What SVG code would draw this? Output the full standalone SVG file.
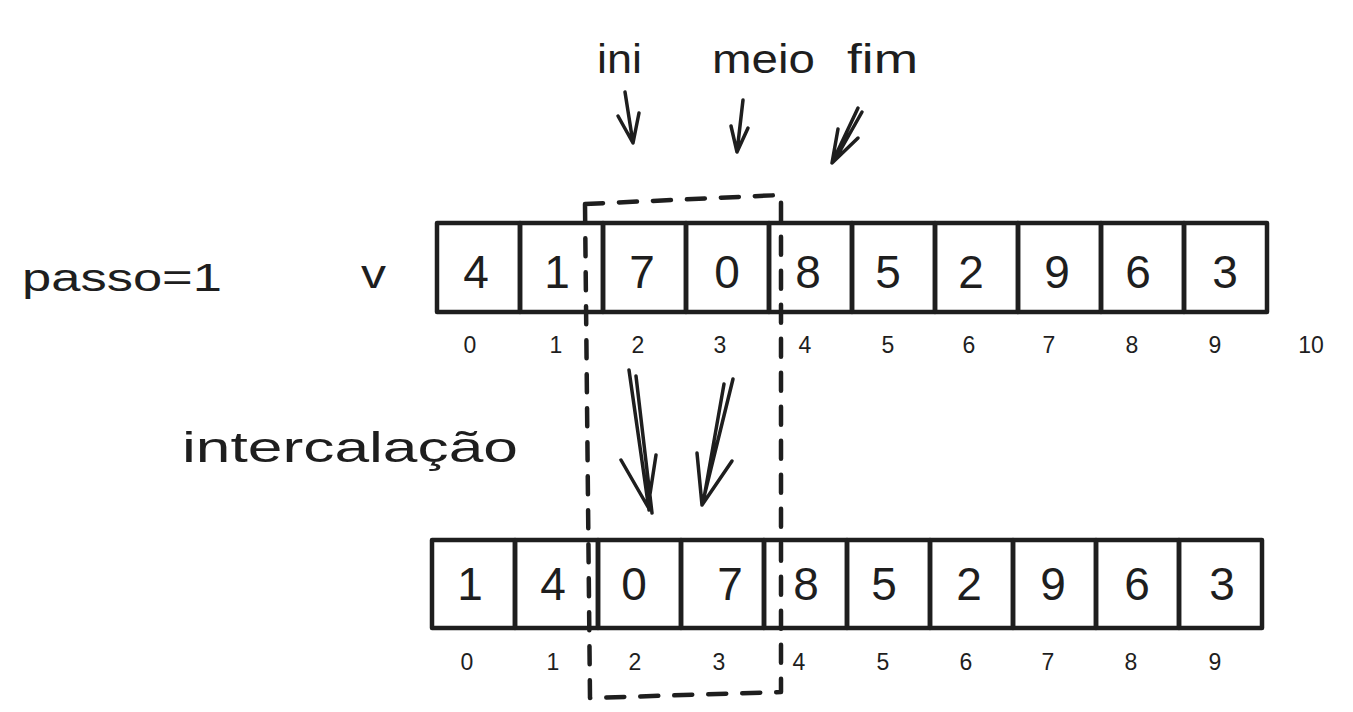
<svg xmlns="http://www.w3.org/2000/svg" width="1353" height="712" viewBox="0 0 1353 712">
<style>
.bg{fill:#ffffff}
.cell{fill:none;stroke:#1e1e1e;stroke-width:4.5;stroke-linejoin:round}
.dig{font-family:"Liberation Sans",Arial,sans-serif;font-size:46px;fill:#1e1e1e;text-anchor:middle}
.idx{font-family:"Liberation Sans",Arial,sans-serif;font-size:23px;fill:#1e1e1e;text-anchor:middle}
.lbl{font-family:"Liberation Sans",Arial,sans-serif;fill:#1e1e1e}
.dash{fill:none;stroke:#1e1e1e;stroke-width:4.5;stroke-dasharray:18 16;stroke-linecap:round;stroke-linejoin:round}
.arr{fill:none;stroke:#1e1e1e;stroke-width:3.5;stroke-linecap:round;stroke-linejoin:round}
</style>
<rect class="bg" x="0" y="0" width="1353" height="712"/>

<g id="label-passo"><text class="lbl" x="22" y="291" font-size="38" textLength="200" lengthAdjust="spacingAndGlyphs">passo=1</text></g>
<g id="label-v"><text class="lbl" x="361" y="288" font-size="40" textLength="25" lengthAdjust="spacingAndGlyphs">v</text></g>
<g id="label-intercalacao"><text class="lbl" x="182" y="462" font-size="42" textLength="336" lengthAdjust="spacingAndGlyphs">intercalação</text></g>
<g id="label-ini"><text class="lbl" x="597" y="73" font-size="40" textLength="45" lengthAdjust="spacingAndGlyphs">ini</text></g>
<g id="label-meio"><text class="lbl" x="712" y="73" font-size="40" textLength="103" lengthAdjust="spacingAndGlyphs">meio</text></g>
<g id="label-fim"><text class="lbl" x="847" y="73" font-size="40" textLength="71" lengthAdjust="spacingAndGlyphs">fim</text></g>

<g id="array-top">
<g id="top-0"><rect class="cell" x="437" y="223" width="83" height="89"/><text class="dig" x="476" y="288">4</text></g>
<g id="top-1"><rect class="cell" x="520" y="223" width="83" height="89"/><text class="dig" x="557" y="288">1</text></g>
<g id="top-2"><rect class="cell" x="603" y="223" width="83" height="89"/><text class="dig" x="642" y="288">7</text></g>
<g id="top-3"><rect class="cell" x="686" y="223" width="83" height="89"/><text class="dig" x="727" y="288">0</text></g>
<g id="top-4"><rect class="cell" x="769" y="223" width="83" height="89"/><text class="dig" x="808" y="288">8</text></g>
<g id="top-5"><rect class="cell" x="852" y="223" width="83" height="89"/><text class="dig" x="888" y="288">5</text></g>
<g id="top-6"><rect class="cell" x="935" y="223" width="83" height="89"/><text class="dig" x="971" y="288">2</text></g>
<g id="top-7"><rect class="cell" x="1018" y="223" width="83" height="89"/><text class="dig" x="1057" y="288">9</text></g>
<g id="top-8"><rect class="cell" x="1101" y="223" width="83" height="89"/><text class="dig" x="1138" y="288">6</text></g>
<g id="top-9"><rect class="cell" x="1184" y="223" width="83" height="89"/><text class="dig" x="1225" y="288">3</text></g>
</g>

<g id="index-top">
<text class="idx" x="470" y="353">0</text>
<text class="idx" x="556" y="353">1</text>
<text class="idx" x="638" y="353">2</text>
<text class="idx" x="720" y="353">3</text>
<text class="idx" x="805" y="353">4</text>
<text class="idx" x="888" y="353">5</text>
<text class="idx" x="969" y="353">6</text>
<text class="idx" x="1049" y="353">7</text>
<text class="idx" x="1132" y="353">8</text>
<text class="idx" x="1215" y="353">9</text>
<text class="idx" x="1311" y="353">10</text>
</g>

<g id="array-bottom">
<g id="bot-0"><rect class="cell" x="432" y="540" width="83" height="88"/><text class="dig" x="470" y="600">1</text></g>
<g id="bot-1"><rect class="cell" x="515" y="540" width="83" height="88"/><text class="dig" x="553" y="600">4</text></g>
<g id="bot-2"><rect class="cell" x="598" y="540" width="83" height="88"/><text class="dig" x="634" y="600">0</text></g>
<g id="bot-3"><rect class="cell" x="681" y="540" width="83" height="88"/><text class="dig" x="730" y="600">7</text></g>
<g id="bot-4"><rect class="cell" x="764" y="540" width="83" height="88"/><text class="dig" x="806" y="600">8</text></g>
<g id="bot-5"><rect class="cell" x="847" y="540" width="83" height="88"/><text class="dig" x="884" y="600">5</text></g>
<g id="bot-6"><rect class="cell" x="930" y="540" width="83" height="88"/><text class="dig" x="969" y="600">2</text></g>
<g id="bot-7"><rect class="cell" x="1013" y="540" width="83" height="88"/><text class="dig" x="1053" y="600">9</text></g>
<g id="bot-8"><rect class="cell" x="1096" y="540" width="83" height="88"/><text class="dig" x="1137" y="600">6</text></g>
<g id="bot-9"><rect class="cell" x="1179" y="540" width="83" height="88"/><text class="dig" x="1222" y="600">3</text></g>
</g>

<g id="index-bottom">
<text class="idx" x="467" y="670">0</text>
<text class="idx" x="553" y="670">1</text>
<text class="idx" x="635" y="670">2</text>
<text class="idx" x="719" y="670">3</text>
<text class="idx" x="799" y="670">4</text>
<text class="idx" x="883" y="670">5</text>
<text class="idx" x="966" y="670">6</text>
<text class="idx" x="1048" y="670">7</text>
<text class="idx" x="1131" y="670">8</text>
<text class="idx" x="1215" y="670">9</text>
</g>

<g id="highlight-box">
<path class="dash" d="M585,204 L781,195 L781,692 L590,698 Z"/>
</g>

<g id="connectors">
<path class="arr" d="M625,92 L633,143 M618,116 L633,143 L639,113"/>
<path class="arr" d="M743,100 L737,152 M731,126 L737,152 L748,128"/>
<path class="arr" d="M858,108 L832,163 M862,112 L836,158 M838,129 L832,163 L858,138"/>
<path class="arr" d="M629,370 L649,510 M636,376 L652,513 M621,460 L648,507 L656,455"/>
<path class="arr" d="M733,379 L702,505 M724,384 L704,498 M697,453 L702,505 L732,461"/>
</g>
</svg>
